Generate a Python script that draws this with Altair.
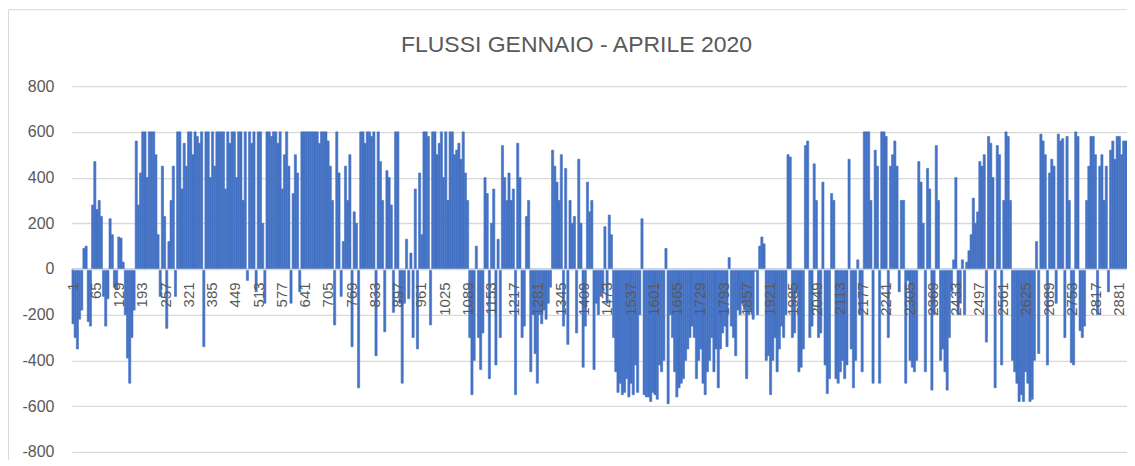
import altair as alt
import pandas as pd

TITLE = "FLUSSI GENNAIO - APRILE 2020"

# hourly flows, in 6-hour blocks (4 per day, 121 days)
flows = [
    -240, -300, -350, -220,  -180, 90, 100, -230,  -250, 280, 470, 260,  300, 230, -120, -250,
    -130, 220, 150, -80,  -90, 140, 135, 30,  -200, -390, -500, -300,  -180, 560, 280, 420,
    600, 600, 400, 600,  600, 600, 500, 150,  -120, 450, 230, -260,  120, 300, 450, -120,
    600, 600, 350, 550,  450, 600, 600, 500,  600, 580, 550, 600,  -340, 600, 600, 400,
    600, 450, 600, 600,  600, 600, 350, 600,  550, 600, 600, 400,  600, 600, 300, 600,
    -50, 600, 550, 600,  -100, 600, 600, 200,  -150, 600, 600, 580,  600, 600, 550, 600,
    350, 500, 600, 450,  -150, 330, 500, 420,  -100, 600, 600, 600,  600, 600, 600, 600,
    600, 550, 600, 600,  600, 560, 450, 300,  -245, 600, 420, -120,  120, 450, 300, 500,
    -340, 250, 200, -520,  600, 600, 550, 600,  600, 580, 600, -380,  600, 470, 300, -275,
    430, 400, 280, -190,  600, 600, -150, -500,  -150, 130, -130, 70,  -300, 350, -350, 420,
    150, 600, 600, 580,  -245, 600, 600, 500,  550, 600, 400, 600,  300, 600, 600, 500,
    520, 550, 480, 600,  420, 300, -300, -550,  -400, 100, -300, -440,  -280, 400, 330, -480,
    200, 350, -420, 130,  -300, 540, 400, 300,  420, 300, 350, -550,  550, 400, -300, -250,
    230, 300, -450, -200,  -370, -500, -200, -240,  -180, -220, -150, -80,  520, 450, 380, 300,
    500, -250, 440, -330,  300, 200, 230, -280,  480, 200, -430, -250,  380, 250, 300, -440,
    -150, -200, -120, -100,  185, -150, 236, 150,  -300, -450, -540, -500,  -550, -540, -480, -560,
    -500, -550, -420, -540,  -200, 220, -550, -560,  -560, -580, -540, -550,  -570, -420, -450, -400,
    90, -590, -200, -300,  -450, -560, -520, -500,  -480, -400, -350, -300,  -250, -300, -480, -400,
    -350, -500, -550, -450,  -400, -300, -450, -350,  -520, -350, -280, -250,  -340, 50, -250, -300,
    -380, -180, -200, -150,  -180, -480, -200, -180,  -220, -10, -200, 100,  140, 110, -400, -380,
    -550, -400, -300, -450,  -350, -250, -300, -200,  500, 490, -300, -280,  -100, -450, -430, -350,
    540, 560, -300, -250,  460, 300, -300, -280,  380, -420, -545, -480,  330, 300, -480, -500,
    -450, -400, -480, -420,  480, -350, -520, -400,  40, -200, -450, 600,  600, 600, 300, -500,
    520, 450, -500, 600,  600, 580, -300, 450,  500, 560, 450, -100,  300, 300, -500, -50,
    -400, -430, -450, -400,  470, 380, 200, -450,  440, 350, -530, -200,  540, 300, -400, -350,
    -450, -530, -300, -100,  40, 400, -200, -150,  40, -200, 30, 80,  150, 310, 200, 250,
    470, 450, 500, -320,  580, 550, 400, -520,  540, 500, -420, 300,  600, 580, 300, -400,
    -450, -500, -580, -550,  -580, -450, -500, -580,  -570, -400, 120, -370,  590, 560, 500, -420,
    420, 480, 450, -150,  590, 560, 570, -300,  580, 300, -410, -420,  600, 580, -270, -300,
    -250, 300, 450, 580,  580, 500, -200, 450,  500, 300, 450, -100,  520, 560, 480, 580,
    580, 500, 560, 560,
]
BLOCK_HOURS = 6

x_labels = [1, 65, 129, 193, 257, 321, 385, 449, 513, 577, 641, 705, 769, 833, 897, 961,
            1025, 1089, 1153, 1217, 1281, 1345, 1409, 1473, 1537, 1601, 1665, 1729, 1793,
            1857, 1921, 1985, 2049, 2113, 2177, 2241, 2305, 2369, 2433, 2497, 2561, 2625,
            2689, 2753, 2817, 2881]
y_ticks = [-800, -600, -400, -200, 0, 200, 400, 600, 800]

starts = [0.5 + BLOCK_HOURS * i for i in range(len(flows))]
df = pd.DataFrame({
    "start": starts,
    "end": [s + BLOCK_HOURS for s in starts],
    "flow": flows,
})
n_hours = BLOCK_HOURS * len(flows)

W, H = 1056, 366
FONT = "Liberation Sans"
GREY = "#595959"
BLUE = "#4472C4"

bars = alt.Chart(df).mark_rect(color=BLUE, stroke=BLUE, strokeWidth=0.6).encode(
    x=alt.X("start:Q",
            scale=alt.Scale(domain=[0.5, n_hours + 0.5], nice=False, zero=False),
            axis=alt.Axis(values=x_labels, labelAngle=270, labelPadding=13, ticks=False,
                          domain=True, domainColor="#d9d9d9", domainWidth=1.5, grid=False,
                          offset=-183, labelFontSize=15, labelColor=GREY, labelFont=FONT,
                          labelOverlap=False, labelFlush=False, labelBound=False,
                          labelExpr="'' + datum.value",
                          title=None, zindex=1)),
    x2="end:Q",
    y=alt.Y("flow:Q",
            scale=alt.Scale(domain=[-800, 800], nice=False),
            axis=alt.Axis(values=y_ticks, grid=True, gridColor="#d9d9d9", gridWidth=1.3,
                          domain=False, ticks=False, labelPadding=18, labelFontSize=16,
                          labelColor=GREY, labelFont=FONT, labelExpr="'' + datum.value",
                          title=None)),
    y2=alt.datum(0),
)

title = alt.Chart(pd.DataFrame({"t": [TITLE]})).mark_text(
    font=FONT, fontSize=23, color=GREY, align="center", baseline="middle"
).encode(text="t:N", x=alt.value(505), y=alt.value(-41))

border = alt.Chart(pd.DataFrame({"a": [0]})).mark_rect(
    fill=None, stroke="#d9d9d9", strokeWidth=1
).encode(x=alt.value(-63.5), x2=alt.value(1060), y=alt.value(-76.5), y2=alt.value(420))

chart = alt.layer(border, bars, title).properties(
    width=W, height=H,
    autosize=alt.AutoSizeParams(type="none"),
    padding={"left": 64, "top": 78, "right": 0, "bottom": 8},
).configure_view(stroke=None)

chart.save("out.html", embed_options={"renderer": "svg", "actions": False})
